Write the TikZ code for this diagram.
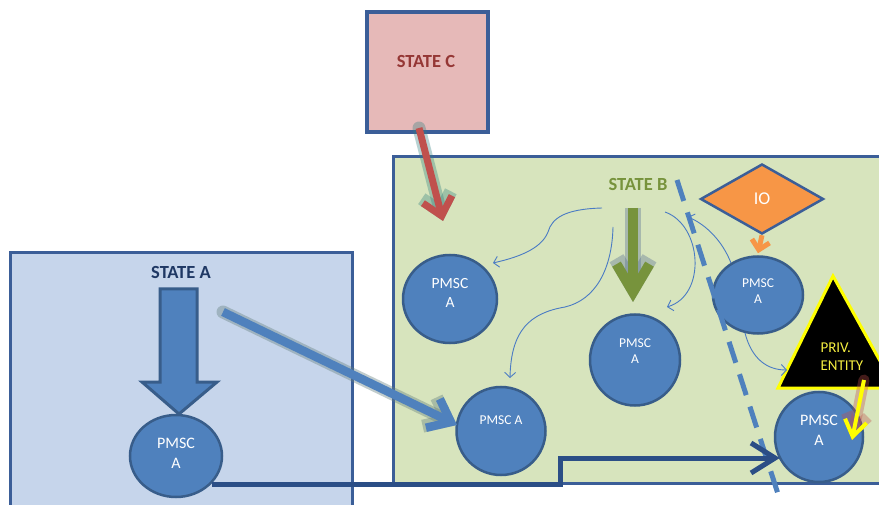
\documentclass[tikz,border=0pt]{standalone}
\usepackage{fontspec}
\setmainfont{Carlito}
\usetikzlibrary{arrows.meta,shapes.geometric}
\definecolor{boxline}{HTML}{3B5E98}
\definecolor{afill}{HTML}{C6D5EB}
\definecolor{bfill}{HTML}{D7E4BD}
\definecolor{cfill}{HTML}{E6B9B8}
\definecolor{circfill}{HTML}{4F81BD}
\definecolor{circline}{HTML}{385D8A}
\definecolor{atext}{HTML}{1F3864}
\definecolor{btext}{HTML}{77933C}
\definecolor{ctext}{HTML}{953735}
\definecolor{redarrow}{HTML}{C0504D}
\definecolor{thinblue}{HTML}{4A7BC4}
\definecolor{darkconn}{HTML}{2B4E86}
\definecolor{iofill}{HTML}{F79646}
\definecolor{privyellow}{HTML}{FFFF00}
\definecolor{privtext}{HTML}{F4EE40}
\tikzset{
  statebox/.style={draw=boxline, line width=3pt},
  pmsc/.style={ellipse, draw=circline, line width=2.5pt, fill=circfill, inner sep=0pt},
  pmsctext/.style 2 args={text=white, align=center, font=\fontsize{#1}{#2}\selectfont},
  statelabel/.style={font=\bfseries\fontsize{18.5}{22}\selectfont},
  thinarrow/.style={draw=thinblue, line width=0.9pt, -{Straight Barb[length=5pt,width=11pt]}},
}
\begin{document}
\begin{tikzpicture}[x=1pt,y=-1pt]
\useasboundingbox (0,0) rectangle (879,505);
\clip (0,0) rectangle (879,505);
\fill[white] (0,0) rectangle (879,505);

% boxes
\draw[statebox, fill=afill] (10,253) rectangle (352,530);
\draw[statebox, fill=bfill] (393,157) rectangle (900,483);
\node[draw=boxline, line width=3.5pt, fill=cfill, minimum width=121pt, minimum height=120pt, inner sep=0pt] (stateC) at (427.5,72) {};
\node[statelabel, text=ctext] (labC) at (426,62) {STATE C};
\node[statelabel, text=atext] (labA) at (181,272) {STATE A};
\node[statelabel, text=btext] (labB) at (638,184) {STATE B};

% circles
\node[pmsc, minimum width=92pt, minimum height=82pt,
  label={[pmsctext={16}{20}, yshift=3pt]center:PMSC\\A}] (pA) at (176,456) {};
\node[pmsc, minimum width=94pt, minimum height=88pt,
  label={[pmsctext={15.5}{19}, yshift=6pt]center:PMSC\\A}] (pUL) at (450,299) {};
\node[pmsc, minimum width=89pt, minimum height=88pt,
  label={[pmsctext={13.5}{16}, yshift=11pt]center:PMSC A}] (pLL) at (501,431) {};
\node[pmsc, minimum width=90pt, minimum height=91pt,
  label={[pmsctext={13.5}{16.5}, yshift=9pt]center:PMSC\\A}] (pM) at (635,360) {};
\node[pmsc, minimum width=90pt, minimum height=77pt,
  label={[pmsctext={13.5}{16.5}, yshift=4pt]center:PMSC\\A}] (pUR) at (758,295) {};
\node[pmsc, minimum width=88pt, minimum height=90pt,
  label={[pmsctext={16}{20}, yshift=7pt]center:PMSC\\A}] (pLR) at (819,437) {};

% IO diamond
\node[diamond, draw=boxline, line width=2.5pt, fill=iofill, minimum width=123pt, minimum height=70pt, inner sep=0pt, aspect=1.75,
  text=white, font=\fontsize{18}{21}\selectfont] (io) at (762,199) {IO};

% private entity triangle
\coordinate (triT) at (833,276);
\coordinate (triL) at (778,388);
\coordinate (triR) at (895,388);
\draw[privyellow, line width=3pt, fill=black, line join=miter] (triT) -- (triL) -- (triR) -- cycle;
\node[text=privtext, align=left, font=\fontsize{15}{18}\selectfont, anchor=west] (priv) at (817,357) {PRIV.\\ENTITY};

% State A block arrow
\draw[fill=circfill, draw=circline, line width=3pt, line join=miter]
  (160,289) -- (197,289) -- (197,382) -- (217,382) -- (179,414) -- (142,382) -- (160,382) -- cycle;

% dashed boundary
\coordinate (dashTop) at (677,180);
\coordinate (dashBot) at (779,497);
\draw[circfill, line width=5pt, dash pattern=on 22pt off 12pt] (dashTop) -- (dashBot);

% thin curved arrows
\coordinate (b1) at (602,208);
\coordinate (b2) at (613,227);
\coordinate (b3) at (665,212);
\coordinate (e1) at (493,263);
\coordinate (e2) at (510,378);
\coordinate (e3) at (667,307);
\coordinate (e4) at (688,217);
\coordinate (s4) at (731,263);
\coordinate (s5) at (745,333);
\coordinate (e5) at (787,370);
\draw[thinarrow] (b1) .. controls (565,209) and (552,218) .. (548,232) .. controls (541,250) and (515,258) .. (e1);
\draw[thinarrow] (b2) .. controls (612,270) and (595,300) .. (565,307) .. controls (530,313) and (511,330) .. (e2);
\draw[thinarrow] (b3) .. controls (702,225) and (707,295) .. (e3);
\draw[thinarrow] (s4) .. controls (722,240) and (705,224) .. (e4);
\draw[thinarrow] (s5) .. controls (752,360) and (768,370) .. (e5);

% State C red arrow
\coordinate (cS) at (419,128);
\coordinate (cE) at (443,221);
\draw[draw=teal!60!gray, opacity=0.35, line width=13pt, -{Straight Barb[length=17pt,width=30pt]}, line cap=round] (cS) -- (cE);
\draw[draw=redarrow, line width=7pt, -{Straight Barb[length=17pt,width=30pt]}] (cS) -- (cE);

% State B green arrow
\coordinate (gS) at (633,208);
\coordinate (gE) at (633,302);
\draw[draw=boxline!70!gray, opacity=0.35, line width=16pt, -{Straight Barb[length=28pt,width=33pt]}] (gS) -- (gE);
\draw[draw=btext, line width=10pt, -{Straight Barb[length=28pt,width=33pt]}] (gS) -- (gE);

% State A diagonal arrow
\coordinate (aS) at (223,312);
\coordinate (aE) at (457,425);
\draw[draw=gray!80!teal, opacity=0.4, line width=13pt, -{Straight Barb[length=20pt,width=32pt]}, line cap=round] (aS) -- (aE);
\draw[draw=circfill, line width=8.5pt, -{Straight Barb[length=20pt,width=32pt]}] (aS) -- (aE);

% PRIV yellow arrow
\coordinate (yS) at (864,380);
\coordinate (yE) at (852,440);
\draw[draw=redarrow, opacity=0.35, line width=11pt, line cap=round, -{Straight Barb[length=16pt,width=22pt]}] (yS) -- (yE);
\draw[draw=privyellow, line width=4pt, -{Straight Barb[length=16pt,width=22pt]}] (yS) -- (yE);

% IO orange arrow
\draw[draw=iofill, line width=5pt, -{Straight Barb[length=9pt,width=18pt]}] (io.south) -- ([yshift=2pt]pUR.north);

% dark connector from PMSC A (state A) to PMSC A (lower right)
\coordinate (k0) at (212,484);
\coordinate (k1) at (560,484);
\coordinate (k2) at (560,458);
\draw[draw=darkconn, line width=5pt, line join=miter, -{Straight Barb[length=24pt,width=30pt]}]
  (k0) -- (k1) -- (k2) -- ([xshift=6pt]pLR.west |- k2);
\end{tikzpicture}
\end{document}
